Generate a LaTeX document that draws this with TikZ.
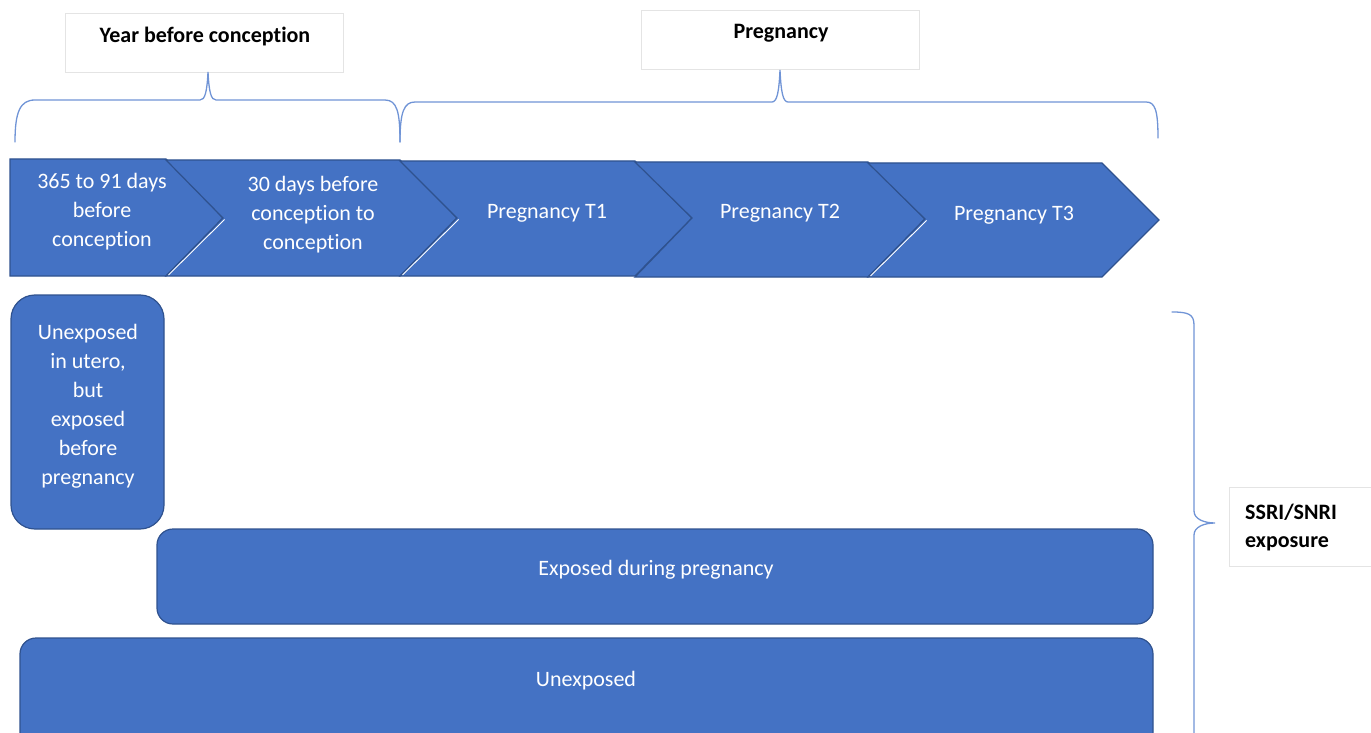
\documentclass[tikz,border=0pt]{standalone}
\usepackage{fontspec}
\setmainfont{Carlito}[Ligatures=NoCommon]
\definecolor{boxblue}{HTML}{4472C4}
\definecolor{boxedge}{HTML}{2F528F}
\definecolor{bracecol}{HTML}{7094D6}
\definecolor{framecol}{HTML}{E4E4E4}
\begin{document}
\begin{tikzpicture}[x=1pt,y=-1pt,
  chevron/.style={fill=boxblue, draw=boxedge, line width=1.2pt, line join=miter},
  bevel/.style={draw=white, line width=0.9pt},
  whitetext/.style={text=white, align=center, inner sep=0pt,
    font=\fontsize{22}{29}\selectfont},
  headtext/.style={text=black, inner sep=0pt,
    font=\bfseries\fontsize{22}{28}\selectfont},
  labelbox/.style={draw=framecol, fill=white, line width=0.8pt,
    anchor=north west, outer sep=0pt, inner sep=0pt},
  roundbox/.style={rectangle, fill=boxblue, draw=boxedge, line width=1.2pt,
    anchor=north west, outer sep=0pt, inner sep=0pt},
  brace/.style={draw=bracecol, line width=1.3pt, line cap=round}]
\useasboundingbox (0,0) rectangle (1371,733);
\clip (0,0) rectangle (1371,733);

% header boxes
\node[labelbox, minimum width=278, minimum height=59] (yearbox) at (65,13) {};
\node[headtext] (yeartext) at (205,36.5) {Year before conception};
\node[labelbox, minimum width=278, minimum height=59] (pregbox) at (641,10) {};
\node[headtext] (pregtext) at (781,33.5) {Pregnancy};

% braces over the timeline
\draw[brace] (15,142) .. controls (15,112) and (20,100) .. (35,100)
  -- (200,100) .. controls (205,100) and (207,92) .. (208,72)
  .. controls (209,92) and (211,100) .. (216,100)
  -- (385,100) .. controls (397,100) and (400,112) .. (400,142);
\draw[brace] (400,142) .. controls (400,112) and (404,102) .. (415,102)
  -- (772,102) .. controls (777,102) and (779,92) .. (780,70)
  .. controls (781,92) and (783,102) .. (788,102)
  -- (1146,102) .. controls (1155,102) and (1158,110) .. (1158,138);

% timeline chevrons
\path[chevron] (10,159) -- (166,159) -- (223,218) -- (166,276) -- (10,276) -- cycle;
\path[chevron] (166,160) -- (400,160) -- (457,218) -- (400,276) -- (166,276) -- (223,218) -- cycle;
\path[chevron] (400,161) -- (635,161) -- (692,218) -- (635,276) -- (400,276) -- (457,218) -- cycle;
\path[chevron] (635,162) -- (868,162) -- (925,219) -- (868,277) -- (635,277) -- (692,218) -- cycle;
\path[chevron] (868,163) -- (1102,163) -- (1159,220) -- (1102,277) -- (868,277) -- (925,219) -- cycle;
\draw[bevel] (224.5,219.5) -- (168.5,275);
\draw[bevel] (458.5,219.5) -- (402.5,275);
\draw[bevel] (926.5,220.5) -- (870.5,276);

\node[whitetext] (period1) at (102,212) {365 to 91 days\\before\\conception};
\node[whitetext] (period2) at (313,215) {30 days before\\conception to\\conception};
\node[whitetext] (tri1) at (547,213) {Pregnancy T1};
\node[whitetext] (tri2) at (780,213) {Pregnancy T2};
\node[whitetext] (tri3) at (1014,215) {Pregnancy T3};

% exposure groups
\node[roundbox, rounded corners=24, minimum width=153, minimum height=234] (preonly) at (11,295) {};
\node[whitetext] (preonlytext) at (88,406) {Unexposed\\in utero,\\but\\exposed\\before\\pregnancy};
\node[roundbox, rounded corners=16, minimum width=996, minimum height=95] (during) at (157,529) {};
\node[whitetext] (duringtext) at (656,570) {Exposed during pregnancy};
\node[roundbox, rounded corners=16, minimum width=1133, minimum height=110] (unexp) at (20,638) {};
\node[whitetext] (unexptext) at (586,681) {Unexposed};

% brace grouping the exposure categories
\draw[brace] (1172,312) .. controls (1188,312) and (1194,314) .. (1194,325)
  -- (1194,511) .. controls (1194,519) and (1204,523) .. (1215,523)
  .. controls (1204,523) and (1194,527) .. (1194,535) -- (1194,745);
\node[labelbox, minimum width=160, minimum height=79] (ssribox) at (1229,487) {};
\node[headtext, align=left, anchor=west] (ssritext) at (1245,528) {SSRI/SNRI\\exposure};
\end{tikzpicture}
\end{document}
